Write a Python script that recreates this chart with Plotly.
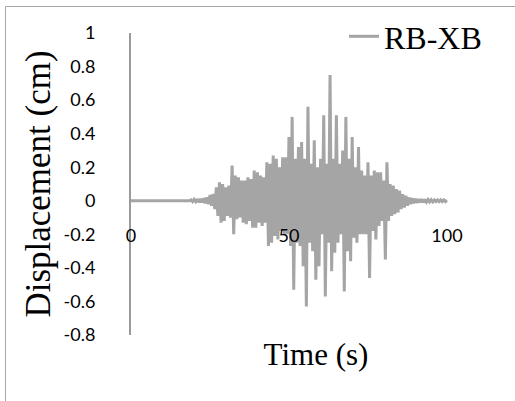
import plotly.graph_objects as go

# ---- data ----
series_name = "RB-XB"
sample_dt = 0.5          # s, sampling interval of the typed record
record_start = 19.0      # s, first sample of the typed record (before: at rest)

quiet_time = [0.0, 18.5]
quiet_disp = [0.0, 0.0]

disp_cm = [
    # 19.0 - 23.5 s
    0.005, -0.005, 0.008, -0.006, 0.010, -0.010, 0.012, -0.010, 0.015, -0.015,
    # 24.0 - 28.5 s
    0.020, -0.020, 0.035, -0.030, 0.040, -0.050, 0.080, -0.090, 0.110, -0.130,
    # 29.0 - 33.5 s
    0.100, -0.120, 0.080, -0.090, 0.090, -0.100, 0.210, -0.200, 0.150, -0.110,
    # 34.0 - 38.5 s
    0.140, -0.100, 0.120, -0.130, 0.120, -0.140, 0.140, -0.120, 0.130, -0.160,
    # 39.0 - 43.5 s
    0.180, -0.160, 0.170, -0.130, 0.150, -0.150, 0.140, -0.130, 0.230, -0.270,
    # 44.0 - 48.5 s
    0.220, -0.250, 0.270, -0.210, 0.250, -0.230, 0.200, -0.180, 0.260, -0.200,
    # 49.0 - 53.5 s
    0.260, -0.200, 0.380, -0.270, 0.500, -0.530, 0.250, -0.250, 0.320, -0.270,
    # 54.0 - 58.5 s
    0.350, -0.390, 0.250, -0.630, 0.560, -0.250, 0.220, -0.300, 0.360, -0.470,
    # 59.0 - 63.5 s
    0.200, -0.390, 0.250, -0.200, 0.510, -0.570, 0.220, -0.250, 0.750, -0.420,
    # 64.0 - 68.5 s
    0.250, -0.310, 0.510, -0.250, 0.220, -0.200, 0.300, -0.540, 0.500, -0.300,
    # 69.0 - 73.5 s
    0.250, -0.360, 0.380, -0.220, 0.200, -0.250, 0.320, -0.200, 0.180, -0.200,
    # 74.0 - 78.5 s
    0.150, -0.200, 0.230, -0.460, 0.150, -0.180, 0.180, -0.230, 0.170, -0.150,
    # 79.0 - 83.5 s
    0.170, -0.120, 0.120, -0.350, 0.230, -0.120, 0.100, -0.090, 0.090, -0.080,
    # 84.0 - 88.5 s
    0.070, -0.070, 0.060, -0.050, 0.040, -0.040, 0.030, -0.030, 0.020, -0.020,
    # 89.0 - 93.5 s
    0.015, -0.015, 0.012, -0.012, 0.010, -0.010, 0.010, -0.010, 0.008, -0.008,
    # 94.0 - 98.5 s
    0.007, -0.007, 0.006, -0.006, 0.005, -0.005, 0.005, -0.005, 0.005, -0.005,
    # 99.0 - 100.0 s
    0.005, -0.005, 0.004,
]

y_ticks = [1, 0.8, 0.6, 0.4, 0.2, 0, -0.2, -0.4, -0.6, -0.8]
y_tick_labels = ["1", "0.8", "0.6", "0.4", "0.2", "0", "-0.2", "-0.4", "-0.6", "-0.8"]
x_ticks = [0, 50, 100]
x_tick_labels = ["0", "50", "100"]

# ---- build ----
time_s = quiet_time + [record_start + i * sample_dt for i in range(len(disp_cm))]
values = quiet_disp + disp_cm

W, H = 515, 401
L, R, T, B = 131, 14, 33, 66
pw, ph = W - L - R, H - T - B

def px(xp):
    return (xp - L) / pw

def py(yp):
    return (H - B - yp) / ph

serif = "Liberation Serif, Times New Roman, serif"
sans = "Lato, Calibri, sans-serif"

fig = go.Figure()
fig.add_trace(go.Scatter(
    x=time_s, y=values, mode="lines", name=series_name,
    line=dict(color="#a5a5a5", width=3),
))

fig.update_layout(
    width=W, height=H,
    margin=dict(l=L, r=R, t=T, b=B, autoexpand=False),
    paper_bgcolor="white", plot_bgcolor="white",
    showlegend=True,
    legend=dict(
        x=px(344), y=py(9), xanchor="left", yanchor="top",
        font=dict(family=serif, size=32, color="black"),
        bgcolor="rgba(0,0,0,0)", borderwidth=0,
    ),
    xaxis=dict(
        range=[0, 117.1], anchor="free", position=0.8 / 1.8,
        tickvals=x_ticks, ticktext=x_tick_labels,
        showline=False, showgrid=False, zeroline=False, ticks="",
        ticklabelstandoff=22,
        tickfont=dict(family=sans, size=18, color="black"),
        title=dict(text="Time (s)", font=dict(family=serif, size=31, color="black"),
                   standoff=98),
    ),
    yaxis=dict(
        range=[-0.8, 1.0],
        tickvals=y_ticks, ticktext=y_tick_labels,
        showline=True, linecolor="#9a9a9a", linewidth=2,
        showgrid=False, zeroline=False, ticks="",
        ticklabelstandoff=30,
        tickfont=dict(family=sans, size=18, color="black"),
        title=dict(text="Displacement (cm)", font=dict(family=serif, size=35, color="black"),
                   standoff=2),
    ),
    shapes=[dict(
        type="rect", xref="paper", yref="paper",
        x0=px(5.5), x1=2, y0=-2, y1=py(6.5),
        line=dict(color="#a6a6a6", width=1), fillcolor="rgba(0,0,0,0)",
        layer="below",
    )],
)

fig.write_html("out.html")
